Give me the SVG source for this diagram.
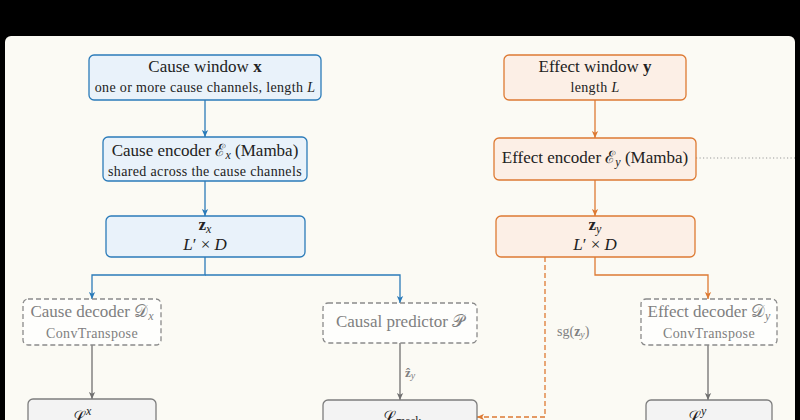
<svg xmlns="http://www.w3.org/2000/svg" width="800" height="420" viewBox="0 0 800 420">
<style>
text{font-family:"Liberation Serif","DejaVu Serif",serif;fill:#222;}
.t{font-size:17px;text-anchor:middle;}
.s{font-size:14px;text-anchor:middle;letter-spacing:0.35px;}
.g{fill:#808080;}
.b{font-weight:bold;}
.i{font-style:italic;}
.blue{fill:#e9f2fa;stroke:#2b7bb9;stroke-width:1.3;}
.orange{fill:#fcefe6;stroke:#dd7a33;stroke-width:1.3;}
.dash{fill:#fefefc;stroke:#8a8a8a;stroke-width:1.3;stroke-dasharray:5 3;}
.loss{fill:#f3f3f3;stroke:#7d7d7d;stroke-width:1.3;}
.cb{fill:none;stroke:#2b7bb9;stroke-width:1.3;marker-end:url(#ab);}
.co{fill:none;stroke:#dd7a33;stroke-width:1.3;marker-end:url(#ao);}
.cg{fill:none;stroke:#707070;stroke-width:1.3;marker-end:url(#ag);}
</style>
<defs>
<marker id="ab" viewBox="0 0 10 10" refX="10" refY="5" markerWidth="7" markerHeight="7" markerUnits="userSpaceOnUse" orient="auto"><path d="M0,0.5 L10,5 L0,9.5 L2.5,5 z" fill="#2b7bb9"/></marker>
<marker id="ao" viewBox="0 0 10 10" refX="10" refY="5" markerWidth="7" markerHeight="7" markerUnits="userSpaceOnUse" orient="auto"><path d="M0,0.5 L10,5 L0,9.5 L2.5,5 z" fill="#dd7a33"/></marker>
<marker id="ag" viewBox="0 0 10 10" refX="10" refY="5" markerWidth="7" markerHeight="7" markerUnits="userSpaceOnUse" orient="auto"><path d="M0,0.5 L10,5 L0,9.5 L2.5,5 z" fill="#707070"/></marker>
</defs>
<rect x="0" y="0" width="800" height="420" fill="#000"/>
<rect x="5" y="36" width="790" height="400" rx="6" fill="#fbfaf4"/>

<g id="connectors">
<path class="cb" d="M205,100 V137"/>
<path class="cb" d="M205,181 V216"/>
<path class="cb" d="M205,257 V275 H92 V299"/>
<path class="cb" d="M205,275 H400 V303"/>
<path class="co" d="M595,100 V138"/>
<path class="co" d="M595,180 V216"/>
<path class="co" d="M595,257 V275 H708 V299"/>
<path class="co" d="M545,257 V417 H477" stroke-dasharray="5 3"/>
<path class="cg" d="M92,345 V399"/>
<path class="cg" d="M400,343 V400"/>
<path class="cg" d="M708,345 V400"/>
<path d="M696,158 H795" fill="none" stroke="#999" stroke-width="1" stroke-dasharray="1.2 2.3"/>
<text x="405" y="377" class="g" font-size="13"><tspan class="b">ẑ</tspan><tspan class="i" font-size="10" dy="2">y</tspan></text>
<text x="557" y="336" class="g" font-size="14">sg(<tspan class="b">z</tspan><tspan class="i" font-size="10" dy="2">y</tspan><tspan dy="-2">)</tspan></text>
</g>

<g id="cause-window">
<rect class="blue" x="89" y="55" width="232" height="45" rx="5"/>
<text class="t" x="205" y="72">Cause window <tspan class="b">x</tspan></text>
<text class="s" x="205" y="92">one or more cause channels, length <tspan class="i">L</tspan></text>
</g>
<g id="cause-encoder">
<rect class="blue" x="103" y="137" width="204" height="44" rx="5"/>
<text class="t" x="205" y="156">Cause encoder ℰ<tspan class="i" font-size="12" dy="3">x</tspan><tspan dy="-3"> (Mamba)</tspan></text>
<text class="s" x="205" y="176">shared across the cause channels</text>
</g>
<g id="zx">
<rect class="blue" x="106" y="216" width="199" height="41" rx="5"/>
<text class="t" x="205" y="230"><tspan class="b">z</tspan><tspan class="i" font-size="12" dy="3">x</tspan></text>
<text class="t" x="205" y="250" font-size="15"><tspan class="i">L</tspan>′ × <tspan class="i">D</tspan></text>
</g>
<g id="effect-window">
<rect class="orange" x="504" y="55" width="182" height="45" rx="5"/>
<text class="t" x="595" y="72">Effect window <tspan class="b">y</tspan></text>
<text class="s" x="595" y="92">length <tspan class="i">L</tspan></text>
</g>
<g id="effect-encoder">
<rect class="orange" x="494" y="138" width="202" height="42" rx="5"/>
<text class="t" x="595" y="163">Effect encoder ℰ<tspan class="i" font-size="12" dy="3">y</tspan><tspan dy="-3"> (Mamba)</tspan></text>
</g>
<g id="zy">
<rect class="orange" x="496" y="216" width="199" height="41" rx="5"/>
<text class="t" x="595" y="230"><tspan class="b">z</tspan><tspan class="i" font-size="12" dy="3">y</tspan></text>
<text class="t" x="595" y="250" font-size="15"><tspan class="i">L</tspan>′ × <tspan class="i">D</tspan></text>
</g>
<g id="cause-decoder">
<rect class="dash" x="23" y="299" width="138" height="46" rx="5"/>
<text class="t g" x="92" y="317">Cause decoder 𝒟<tspan class="i" font-size="12" dy="3">x</tspan></text>
<text class="s g" x="92" y="338">ConvTranspose</text>
</g>
<g id="causal-predictor">
<rect class="dash" x="323" y="303" width="154" height="40" rx="5"/>
<text class="t g" x="400" y="327">Causal predictor 𝒫</text>
</g>
<g id="effect-decoder">
<rect class="dash" x="641" y="299" width="136" height="46" rx="5"/>
<text class="t g" x="709" y="317">Effect decoder 𝒟<tspan class="i" font-size="12" dy="3">y</tspan></text>
<text class="s g" x="709" y="338">ConvTranspose</text>
</g>
<g id="loss-x">
<rect class="loss" x="28" y="399" width="128" height="40" rx="5"/>
<text x="72" y="423" font-size="17">ℒ<tspan class="i" font-size="12" dy="-8">x</tspan></text>
</g>
<g id="loss-mask">
<rect class="loss" x="323" y="400" width="154" height="40" rx="5"/>
<text x="382" y="423" font-size="17">ℒ<tspan font-size="12" dy="2">mask</tspan></text>
</g>
<g id="loss-y">
<rect class="loss" x="646" y="400" width="126" height="40" rx="5"/>
<text x="687" y="423" font-size="17">ℒ<tspan class="i" font-size="12" dy="-8">y</tspan></text>
</g>
</svg>
